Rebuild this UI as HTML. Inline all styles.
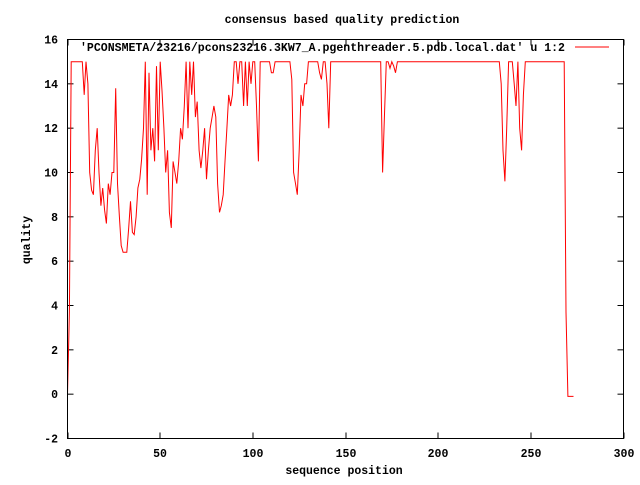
<!DOCTYPE html>
<html><head><meta charset="utf-8"><style>
html,body{margin:0;padding:0;background:#fff}
svg text{font-family:"Liberation Mono",monospace;font-weight:bold;font-size:11.5px;fill:#000}
</style></head><body>
<svg id="chart" width="640" height="480" xmlns="http://www.w3.org/2000/svg">
<rect width="640" height="480" fill="#fff"/>
<text x="342" y="23" text-anchor="middle">consensus based quality prediction</text>
<text x="0" y="0" text-anchor="middle" transform="translate(30,240) rotate(-90)">quality</text>
<text x="344" y="474" text-anchor="middle">sequence position</text>
<g id="axes"></g>
<g id="series"></g>
<text x="565" y="51" text-anchor="end" textLength="485" lengthAdjust="spacingAndGlyphs">'PCONSMETA/23216/pcons23216.3KW7_A.pgenthreader.5.pdb.local.dat' u 1:2</text>
<line x1="575" y1="47" x2="609" y2="47" stroke="#f00" stroke-width="1"/>
<rect x="67.5" y="39.5" width="556" height="399" fill="none" stroke="#000" stroke-width="1"/>
</svg>
<script>
const xTicks=[0,50,100,150,200,250,300];
const yTicks=[-2,0,2,4,6,8,10,12,14,16];
const quality=[0,3.7,15,15,15,15,15,15,15,13.5,15,14,10,9.2,9,11,12,10,8.5,9.3,8.3,7.7,9.5,9,10,10,13.8,9.5,8,6.7,6.4,6.4,6.4,7.5,8.7,7.3,7.2,8,9.3,9.7,10.6,12,15,9,14.5,11,12,10.5,14.8,11,15,13.7,12,10,11,8.2,7.5,10.5,10,9.5,10.5,12,11.5,13,15,12,15,13.5,15,12.5,13.2,11,10.2,11,12,9.7,11,12,12.5,13,12.5,9.5,8.2,8.5,9,10.5,12,13.5,13,13.5,15,15,14,15,15,13,15,13,15,14,15,15,13,10.5,15,15,15,15,15,15,14.5,14.5,15,15,15,15,15,15,15,15,15,14.2,10,9.5,9,11,13.5,13,14,14,15,15,15,15,15,15,14.5,14.2,15,15,14,12,15,15,15,15,15,15,15,15,15,15,15,15,15,15,15,15,15,15,15,15,15,15,15,15,15,15,15,15,10,12.5,15,15,14.7,15,14.8,14.5,15,15,15,15,15,15,15,15,15,15,15,15,15,15,15,15,15,15,15,15,15,15,15,15,15,15,15,15,15,15,15,15,15,15,15,15,15,15,15,15,15,15,15,15,15,15,15,15,15,15,15,15,15,15,15,15,14,11,9.6,12,15,15,15,14,13,15,12,11,13.5,15,15,15,15,15,15,15,15,15,15,15,15,15,15,15,15,15,15,15,15,15,15,3.7,-0.1,-0.1,-0.1,-0.1];
const X0=67.5,X1=623.5,Y0=438.5,Y1=39.5;
const sx=v=>X0+(v-0)/(300-0)*(X1-X0);
const sy=v=>Y0-(v+2)/(16+2)*(Y0-Y1);
const NS="http://www.w3.org/2000/svg";
const axes=document.getElementById('axes');
function mk(tag,attrs,parent){const e=document.createElementNS(NS,tag);for(const k in attrs)e.setAttribute(k,attrs[k]);parent.appendChild(e);return e;}
xTicks.forEach(t=>{
  const x=Math.round(sx(t))+0.5-0.5;
  const a=mk('line',{x1:x,y1:Y0,x2:x,y2:Y0-6,stroke:'#000'},axes);
  
  
  const b=mk('line',{x1:x,y1:Y1,x2:x,y2:Y1+6,stroke:'#000'},axes);
  
  
  const l=mk('text',{x:x,y:457,'text-anchor':'middle'},axes);
  l.textContent=t;
  
  
});
yTicks.forEach(t=>{
  const y=sy(t);
  const a=mk('line',{x1:X0,y1:y,x2:X0+6,y2:y,stroke:'#000'},axes);
  
  
  const b=mk('line',{x1:X1,y1:y,x2:X1-6,y2:y,stroke:'#000'},axes);
  
  
  const l=mk('text',{x:58,y:y+4,'text-anchor':'end'},axes);
  l.textContent=t;
  
  
});
const pts=quality.map((v,i)=>sx(i).toFixed(1)+','+sy(v).toFixed(1)).join(' ');
const pl=mk('polyline',{points:pts,fill:'none',stroke:'#f00','stroke-width':1},document.getElementById('series'));


</script>
</body></html>
